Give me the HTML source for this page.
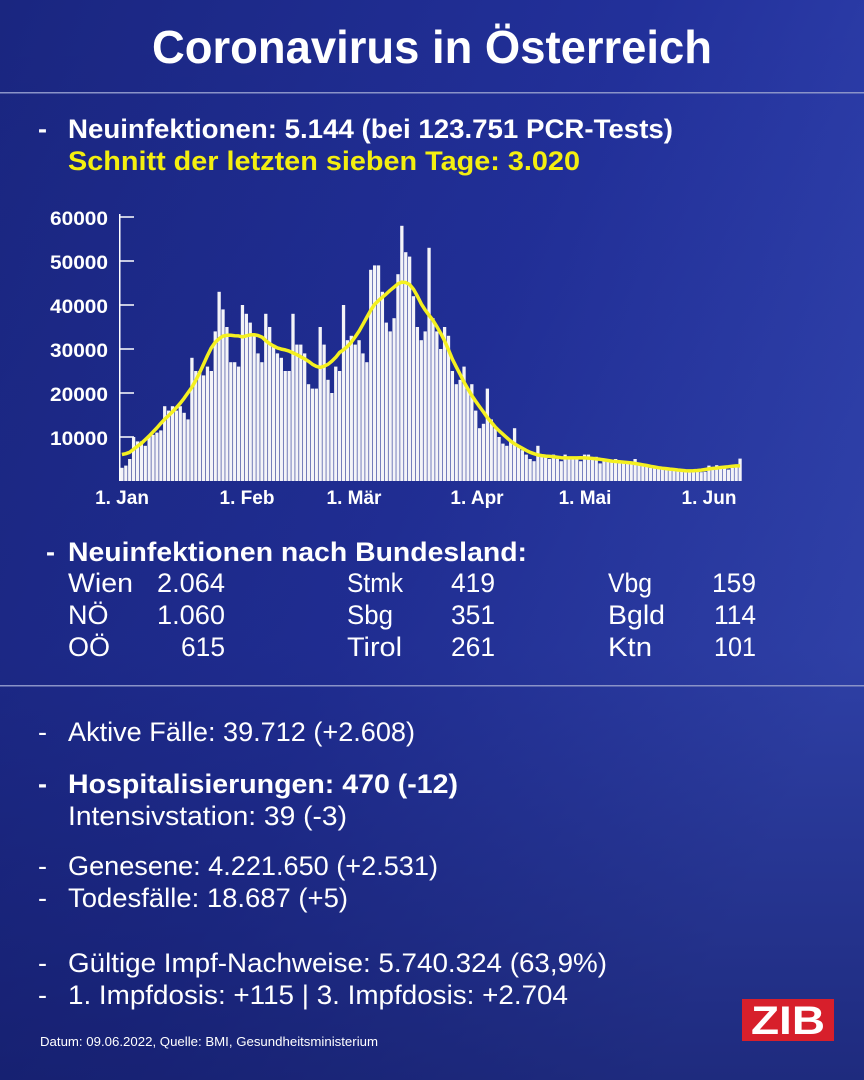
<!DOCTYPE html>
<html><head><meta charset="utf-8"><style>
html,body{margin:0;padding:0;width:864px;height:1080px;overflow:hidden}
svg text{font-family:"Liberation Sans",sans-serif;fill:#fff}
.b{font-weight:bold}
</style></head><body>
<svg id="s" width="864" height="1080" viewBox="0 0 864 1080" xmlns="http://www.w3.org/2000/svg">
<defs>
<linearGradient id="bg" x1="0" y1="0" x2="1" y2="0.6">
<stop offset="0" stop-color="#1a2680"/><stop offset="0.55" stop-color="#22309a"/><stop offset="1" stop-color="#3447b4"/>
</linearGradient>
<linearGradient id="bg2" x1="0" y1="0" x2="0" y2="1">
<stop offset="0" stop-color="#10185a" stop-opacity="0"/><stop offset="0.6" stop-color="#10185a" stop-opacity="0.15"/><stop offset="1" stop-color="#10185a" stop-opacity="0.6"/>
</linearGradient>
</defs>
<rect width="864" height="1080" fill="url(#bg)"/>
<rect width="864" height="1080" fill="url(#bg2)"/>
<text class="b" x="152" y="63" font-size="46" textLength="560" lengthAdjust="spacingAndGlyphs">Coronavirus in Österreich</text>
<rect x="0" y="92" width="864" height="1.5" fill="#8a93c8"/>
<text class="b" x="38" y="138" font-size="27">-</text>
<text class="b" x="68" y="138" font-size="27" textLength="605" lengthAdjust="spacingAndGlyphs">Neuinfektionen: 5.144 (bei 123.751 PCR-Tests)</text>
<text class="b" x="68" y="170" font-size="27" textLength="512" lengthAdjust="spacingAndGlyphs" style="fill:#f4ef10">Schnitt der letzten sieben Tage: 3.020</text>
<g id="chart"></g>
<g class="b">
<text class="b" x="108" y="225" text-anchor="end" font-size="19" textLength="58" lengthAdjust="spacingAndGlyphs">60000</text>
<text class="b" x="108" y="269" text-anchor="end" font-size="19" textLength="58" lengthAdjust="spacingAndGlyphs">50000</text>
<text class="b" x="108" y="313" text-anchor="end" font-size="19" textLength="58" lengthAdjust="spacingAndGlyphs">40000</text>
<text class="b" x="108" y="357" text-anchor="end" font-size="19" textLength="58" lengthAdjust="spacingAndGlyphs">30000</text>
<text class="b" x="108" y="401" text-anchor="end" font-size="19" textLength="58" lengthAdjust="spacingAndGlyphs">20000</text>
<text class="b" x="108" y="445" text-anchor="end" font-size="19" textLength="58" lengthAdjust="spacingAndGlyphs">10000</text>
<text class="b" x="122" y="504" text-anchor="middle" font-size="19">1. Jan</text>
<text class="b" x="247" y="504" text-anchor="middle" font-size="19">1. Feb</text>
<text class="b" x="354" y="504" text-anchor="middle" font-size="19">1. Mär</text>
<text class="b" x="477" y="504" text-anchor="middle" font-size="19">1. Apr</text>
<text class="b" x="585" y="504" text-anchor="middle" font-size="19">1. Mai</text>
<text class="b" x="709" y="504" text-anchor="middle" font-size="19">1. Jun</text>
</g>
<text class="b" x="46" y="561" font-size="27">-</text>
<text class="b" x="68" y="561" font-size="27" textLength="459" lengthAdjust="spacingAndGlyphs">Neuinfektionen nach Bundesland:</text>
<g>
<text x="68" y="592" font-size="27" textLength="65" lengthAdjust="spacingAndGlyphs">Wien</text><text x="225" y="592" font-size="27" text-anchor="end" textLength="68" lengthAdjust="spacingAndGlyphs">2.064</text>
<text x="68" y="624" font-size="27">NÖ</text><text x="225" y="624" font-size="27" text-anchor="end" textLength="68" lengthAdjust="spacingAndGlyphs">1.060</text>
<text x="68" y="656" font-size="27">OÖ</text><text x="225" y="656" font-size="27" text-anchor="end" textLength="44" lengthAdjust="spacingAndGlyphs">615</text>
<text x="347" y="592" font-size="27" textLength="56" lengthAdjust="spacingAndGlyphs">Stmk</text><text x="495" y="592" font-size="27" text-anchor="end" textLength="44" lengthAdjust="spacingAndGlyphs">419</text>
<text x="347" y="624" font-size="27" textLength="46" lengthAdjust="spacingAndGlyphs">Sbg</text><text x="495" y="624" font-size="27" text-anchor="end" textLength="44" lengthAdjust="spacingAndGlyphs">351</text>
<text x="347" y="656" font-size="27" textLength="55" lengthAdjust="spacingAndGlyphs">Tirol</text><text x="495" y="656" font-size="27" text-anchor="end" textLength="44" lengthAdjust="spacingAndGlyphs">261</text>
<text x="608" y="592" font-size="27" textLength="44" lengthAdjust="spacingAndGlyphs">Vbg</text><text x="756" y="592" font-size="27" text-anchor="end" textLength="44" lengthAdjust="spacingAndGlyphs">159</text>
<text x="608" y="624" font-size="27" textLength="57" lengthAdjust="spacingAndGlyphs">Bgld</text><text x="756" y="624" font-size="27" text-anchor="end" textLength="42" lengthAdjust="spacingAndGlyphs">114</text>
<text x="608" y="656" font-size="27" textLength="44" lengthAdjust="spacingAndGlyphs">Ktn</text><text x="756" y="656" font-size="27" text-anchor="end" textLength="42" lengthAdjust="spacingAndGlyphs">101</text>
</g>
<rect x="0" y="685" width="864" height="1.5" fill="#8a93c8"/>
<text x="38" y="741" font-size="27">-</text>
<text x="68" y="741" font-size="27" textLength="347" lengthAdjust="spacingAndGlyphs">Aktive Fälle: 39.712 (+2.608)</text>
<text class="b" x="38" y="793" font-size="27">-</text>
<text class="b" x="68" y="793" font-size="27" textLength="390" lengthAdjust="spacingAndGlyphs">Hospitalisierungen: 470 (-12)</text>
<text x="68" y="825" font-size="27" textLength="279" lengthAdjust="spacingAndGlyphs">Intensivstation: 39 (-3)</text>
<text x="38" y="875" font-size="27">-</text>
<text x="68" y="875" font-size="27" textLength="370" lengthAdjust="spacingAndGlyphs">Genesene: 4.221.650 (+2.531)</text>
<text x="38" y="907" font-size="27">-</text>
<text x="68" y="907" font-size="27" textLength="280" lengthAdjust="spacingAndGlyphs">Todesfälle: 18.687 (+5)</text>
<text x="38" y="972" font-size="27">-</text>
<text x="68" y="972" font-size="27" textLength="539" lengthAdjust="spacingAndGlyphs">Gültige Impf-Nachweise: 5.740.324 (63,9%)</text>
<text x="38" y="1004" font-size="27">-</text>
<text x="68" y="1004" font-size="27" textLength="500" lengthAdjust="spacingAndGlyphs">1. Impfdosis: +115 | 3. Impfdosis: +2.704</text>
<text x="40" y="1046" font-size="13" textLength="338" lengthAdjust="spacingAndGlyphs">Datum: 09.06.2022, Quelle: BMI, Gesundheitsministerium</text>
<rect x="742" y="999" width="92" height="42" fill="#d71f2b"/>
<text class="b" x="788" y="1034" font-size="40" text-anchor="middle" textLength="74" lengthAdjust="spacingAndGlyphs">ZIB</text>
</svg>
<script>
var d=[3,3.5,5,10,9,9,8,10,10.5,11,11.5,17,16,17,16,17,15.5,14,28,25,25,24,26,25,34,43,39,35,27,27,26,
40,38,36,33,29,27,38,35,31,29,28,25,25,38,31,31,29,22,21,21,35,31,23,20,26,25,40,32,
33,31,32,29,27,48,49,49,43,36,34,37,47,58,52,51,42,35,32,34,53,37,34,30,35,33,25,22,23,26,21,
22,16,12,13,21,14,12,10,8.5,8,9,12,8,7,6,5,4.5,8,6,5.5,5,6,5,4.5,6,5.5,5,5,4.5,6,
6,5,5.5,4,5,4.5,4.5,5,4,4.2,4,3.8,5,4,3.5,3.5,3,3.2,3,2.8,3,2.6,2.5,2.8,2.3,2.2,2,2.2,2.4,2,2.1,
3.5,3,3.6,2.8,3,2.6,3,3.5,5.1];
var g=document.getElementById('chart'),h='';
var x0=120,w=622/d.length;
function Y(v){return 481-v*1000*0.0044;}
h+='<rect x="119" y="214" width="1.5" height="267" fill="#fff"/>';
for(var k=1;k<=6;k++)h+='<rect x="120" y="'+(Y(k*10)-0.75)+'" width="14" height="1.5" fill="#fff"/>';
for(var i=0;i<d.length;i++){var y=Y(d[i]);h+='<rect x="'+(x0+i*w+0.3).toFixed(2)+'" y="'+y.toFixed(1)+'" width="'+(w-0.6).toFixed(2)+'" height="'+(481-y).toFixed(1)+'" fill="#f4f4f8"/>';}
var m=[];for(i=0;i<d.length;i++){var s=0,n=0;for(var j=Math.max(0,i-3);j<=Math.min(d.length-1,i+3);j++){s+=d[j];n++;}m.push(s/n);}
var p=[];for(i=0;i<d.length;i++){var s2=0,n2=0;for(var j2=Math.max(0,i-2);j2<=Math.min(d.length-1,i+2);j2++){s2+=m[j2];n2++;}p.push((x0+i*w+w/2).toFixed(1)+','+Y(s2/n2).toFixed(1));}
h+='<polyline points="'+p.join(' ')+'" fill="none" stroke="#f4f020" stroke-width="3.5" stroke-linejoin="round"/>';
g.innerHTML=h;
</script>
</body></html>
